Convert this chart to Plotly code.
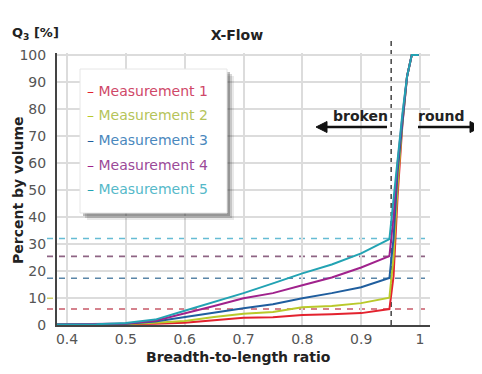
import plotly.graph_objects as go

# ---------------- data ----------------
x_ratio = [0.383, 0.45, 0.5, 0.55, 0.6, 0.65, 0.7, 0.75, 0.8, 0.85, 0.9, 0.948,
           0.955, 0.962, 0.97, 0.978, 0.986, 0.998]
m1 = [0.2, 0.2, 0.3, 0.5, 0.8, 1.8, 2.7, 2.9, 3.7, 4.0, 4.4, 5.9, 18, 48, 74, 92, 100, 100]
m2 = [0.2, 0.2, 0.4, 0.8, 1.5, 3.0, 4.2, 4.8, 6.6, 7.0, 8.1, 10.1, 25, 52, 75, 92, 100, 100]
m3 = [0.2, 0.3, 0.5, 1.3, 3.0, 4.6, 6.2, 7.7, 9.9, 11.8, 14.0, 17.4, 32, 57, 76, 92, 100, 100]
m4 = [0.2, 0.3, 0.6, 1.6, 4.2, 7.0, 9.9, 11.8, 14.7, 17.6, 21.3, 25.5, 40, 60, 77, 92, 100, 100]
m5 = [0.2, 0.3, 0.7, 2.0, 5.3, 8.5, 11.8, 15.4, 19.1, 22.4, 26.5, 31.8, 47, 63, 78, 92, 100, 100]
series_names = ["Measurement 1", "Measurement 2", "Measurement 3", "Measurement 4", "Measurement 5"]
ref_levels = [5.9, 9.9, 17.3, 25.4, 32.0]
boundary_ratio = 0.951
x_ticks = [0.4, 0.5, 0.6, 0.7, 0.8, 0.9, 1.0]
x_tick_labels = ["0.4", "0.5", "0.6", "0.7", "0.8", "0.9", "1"]
y_ticks = [0, 10, 20, 30, 40, 50, 60, 70, 80, 90, 100]

# ---------------- style ----------------
line_colors = ["#e3222e", "#b9c92a", "#1f5e9e", "#a0228c", "#22a3b3"]
text_colors = ["#cf4868", "#b5c45a", "#4a88bd", "#9b4a98", "#55b9c9"]
dash_colors = ["#c85a68", "#cccc66", "#5a86a8", "#8e6484", "#66bcd4"]
FONT = "DejaVu Sans"

OFF = 8                      # page body margin of the html page
W, H = 482 - OFF, 374 - OFF
L, R, T, B = 57, 430, 53, 325   # plot area in window pixels


def px(xp):
    return (xp - L) / (R - L)


def py(yp):
    return (B - yp) / (B - T)


fig = go.Figure()

shapes = []
for lvl, c in zip(ref_levels, dash_colors):
    shapes.append(dict(type="line", xref="paper", yref="y", x0=px(47), x1=1.0,
                       y0=lvl, y1=lvl, line=dict(color=c, width=1.6, dash="6px,6px"),
                       layer="below"))

shapes.append(dict(type="line", xref="x", yref="paper", x0=boundary_ratio, x1=boundary_ratio,
                   y0=0, y1=py(40), line=dict(color="#444444", width=1.5, dash="5px,4px"),
                   layer="below"))

# legend box with shadow
lx0, lx1, ly0, ly1 = 80, 227, 69, 213
for off, op in [(7, 0.10), (5, 0.18), (3, 0.30)]:
    shapes.append(dict(type="rect", xref="paper", yref="paper",
                       x0=px(lx0 + off), x1=px(lx1 + off), y0=py(ly1 + off), y1=py(ly0 + off),
                       fillcolor=f"rgba(40,40,40,{op})", line=dict(width=0)))
shapes.append(dict(type="rect", xref="paper", yref="paper",
                   x0=px(lx0), x1=px(lx1), y0=py(ly1), y1=py(ly0),
                   fillcolor="white", line=dict(color="#e6e6e6", width=1)))


def arrow(x_tail, x_tip, yy):
    d = 1 if x_tip > x_tail else -1
    base = x_tip - d * 11
    shapes.append(dict(type="line", xref="paper", yref="paper",
                       x0=px(x_tail), x1=px(base), y0=py(yy), y1=py(yy),
                       line=dict(color="#111111", width=2.5)))
    path = (f"M {px(x_tip)} {py(yy)} L {px(base)} {py(yy - 5.5)} "
            f"L {px(base)} {py(yy + 5.5)} Z")
    shapes.append(dict(type="path", xref="paper", yref="paper", path=path,
                       fillcolor="#111111", line=dict(color="#111111", width=1)))


arrow(387, 316, 127)
arrow(418, 481, 127)

for ys, name, c in zip([m1, m2, m3, m4, m5], series_names, line_colors):
    fig.add_trace(go.Scatter(x=x_ratio, y=ys, mode="lines", name=name,
                             line=dict(color=c, width=2), showlegend=False))

annotations = []
for i, (name, c, lc) in enumerate(zip(series_names, text_colors, line_colors)):
    annotations.append(dict(xref="paper", yref="paper", x=px(85), y=py(91 + 24.5 * i),
                            xanchor="left", yanchor="middle", showarrow=False,
                            text=f"<span style='color:{lc}'>–</span> {name}",
                            font=dict(family=FONT, size=14, color=c)))

annotations.append(dict(xref="paper", yref="paper", x=px(10), y=py(33), xanchor="left",
                        yanchor="middle", showarrow=False,
                        text="<b>Q<sub>3</sub> [%]</b>",
                        font=dict(family=FONT, size=13, color="#222222")))
annotations.append(dict(xref="paper", yref="paper", x=px(18), y=py(190), xanchor="center",
                        yanchor="middle", showarrow=False, textangle=-90,
                        text="<b>Percent by volume</b>",
                        font=dict(family=FONT, size=14, color="#222222")))
annotations.append(dict(xref="paper", yref="paper", x=px(238), y=py(357), xanchor="center",
                        yanchor="middle", showarrow=False,
                        text="<b>Breadth-to-length ratio</b>",
                        font=dict(family=FONT, size=14, color="#222222")))
annotations.append(dict(xref="paper", yref="paper", x=px(360), y=py(116), xanchor="center",
                        yanchor="middle", showarrow=False, text="<b>broken</b>",
                        font=dict(family=FONT, size=14, color="#222222")))
annotations.append(dict(xref="paper", yref="paper", x=px(441), y=py(116), xanchor="center",
                        yanchor="middle", showarrow=False, text="<b>round</b>",
                        font=dict(family=FONT, size=14, color="#222222")))

fig.update_layout(
    width=W, height=H,
    margin=dict(l=L - OFF, r=W - (R - OFF), t=T - OFF, b=H - (B - OFF), autoexpand=False),
    paper_bgcolor="white", plot_bgcolor="white",
    title=dict(text="<b>X-Flow</b>", x=(237 - OFF) / W, y=1 - (35 - OFF) / H, xanchor="center",
               yanchor="middle", font=dict(family=FONT, size=14, color="#222222")),
    shapes=shapes, annotations=annotations, showlegend=False,
    xaxis=dict(range=[0.383, 1.017], tickvals=x_ticks, ticktext=x_tick_labels,
               showgrid=True, gridcolor="#dcdcdc", gridwidth=1.5, zeroline=False,
               showline=True, linecolor="#444444", linewidth=2, ticks="",
               tickfont=dict(family=FONT, size=14, color="#555555"), automargin=False),
    yaxis=dict(range=[0, 100.7], tickvals=y_ticks,
               showgrid=True, gridcolor="#dcdcdc", gridwidth=1.5, zeroline=False,
               showline=True, linecolor="#444444", linewidth=2, ticks="",
               ticklabelstandoff=6,
               tickfont=dict(family=FONT, size=14, color="#555555"), automargin=False),
)

fig.write_html("out.html")
